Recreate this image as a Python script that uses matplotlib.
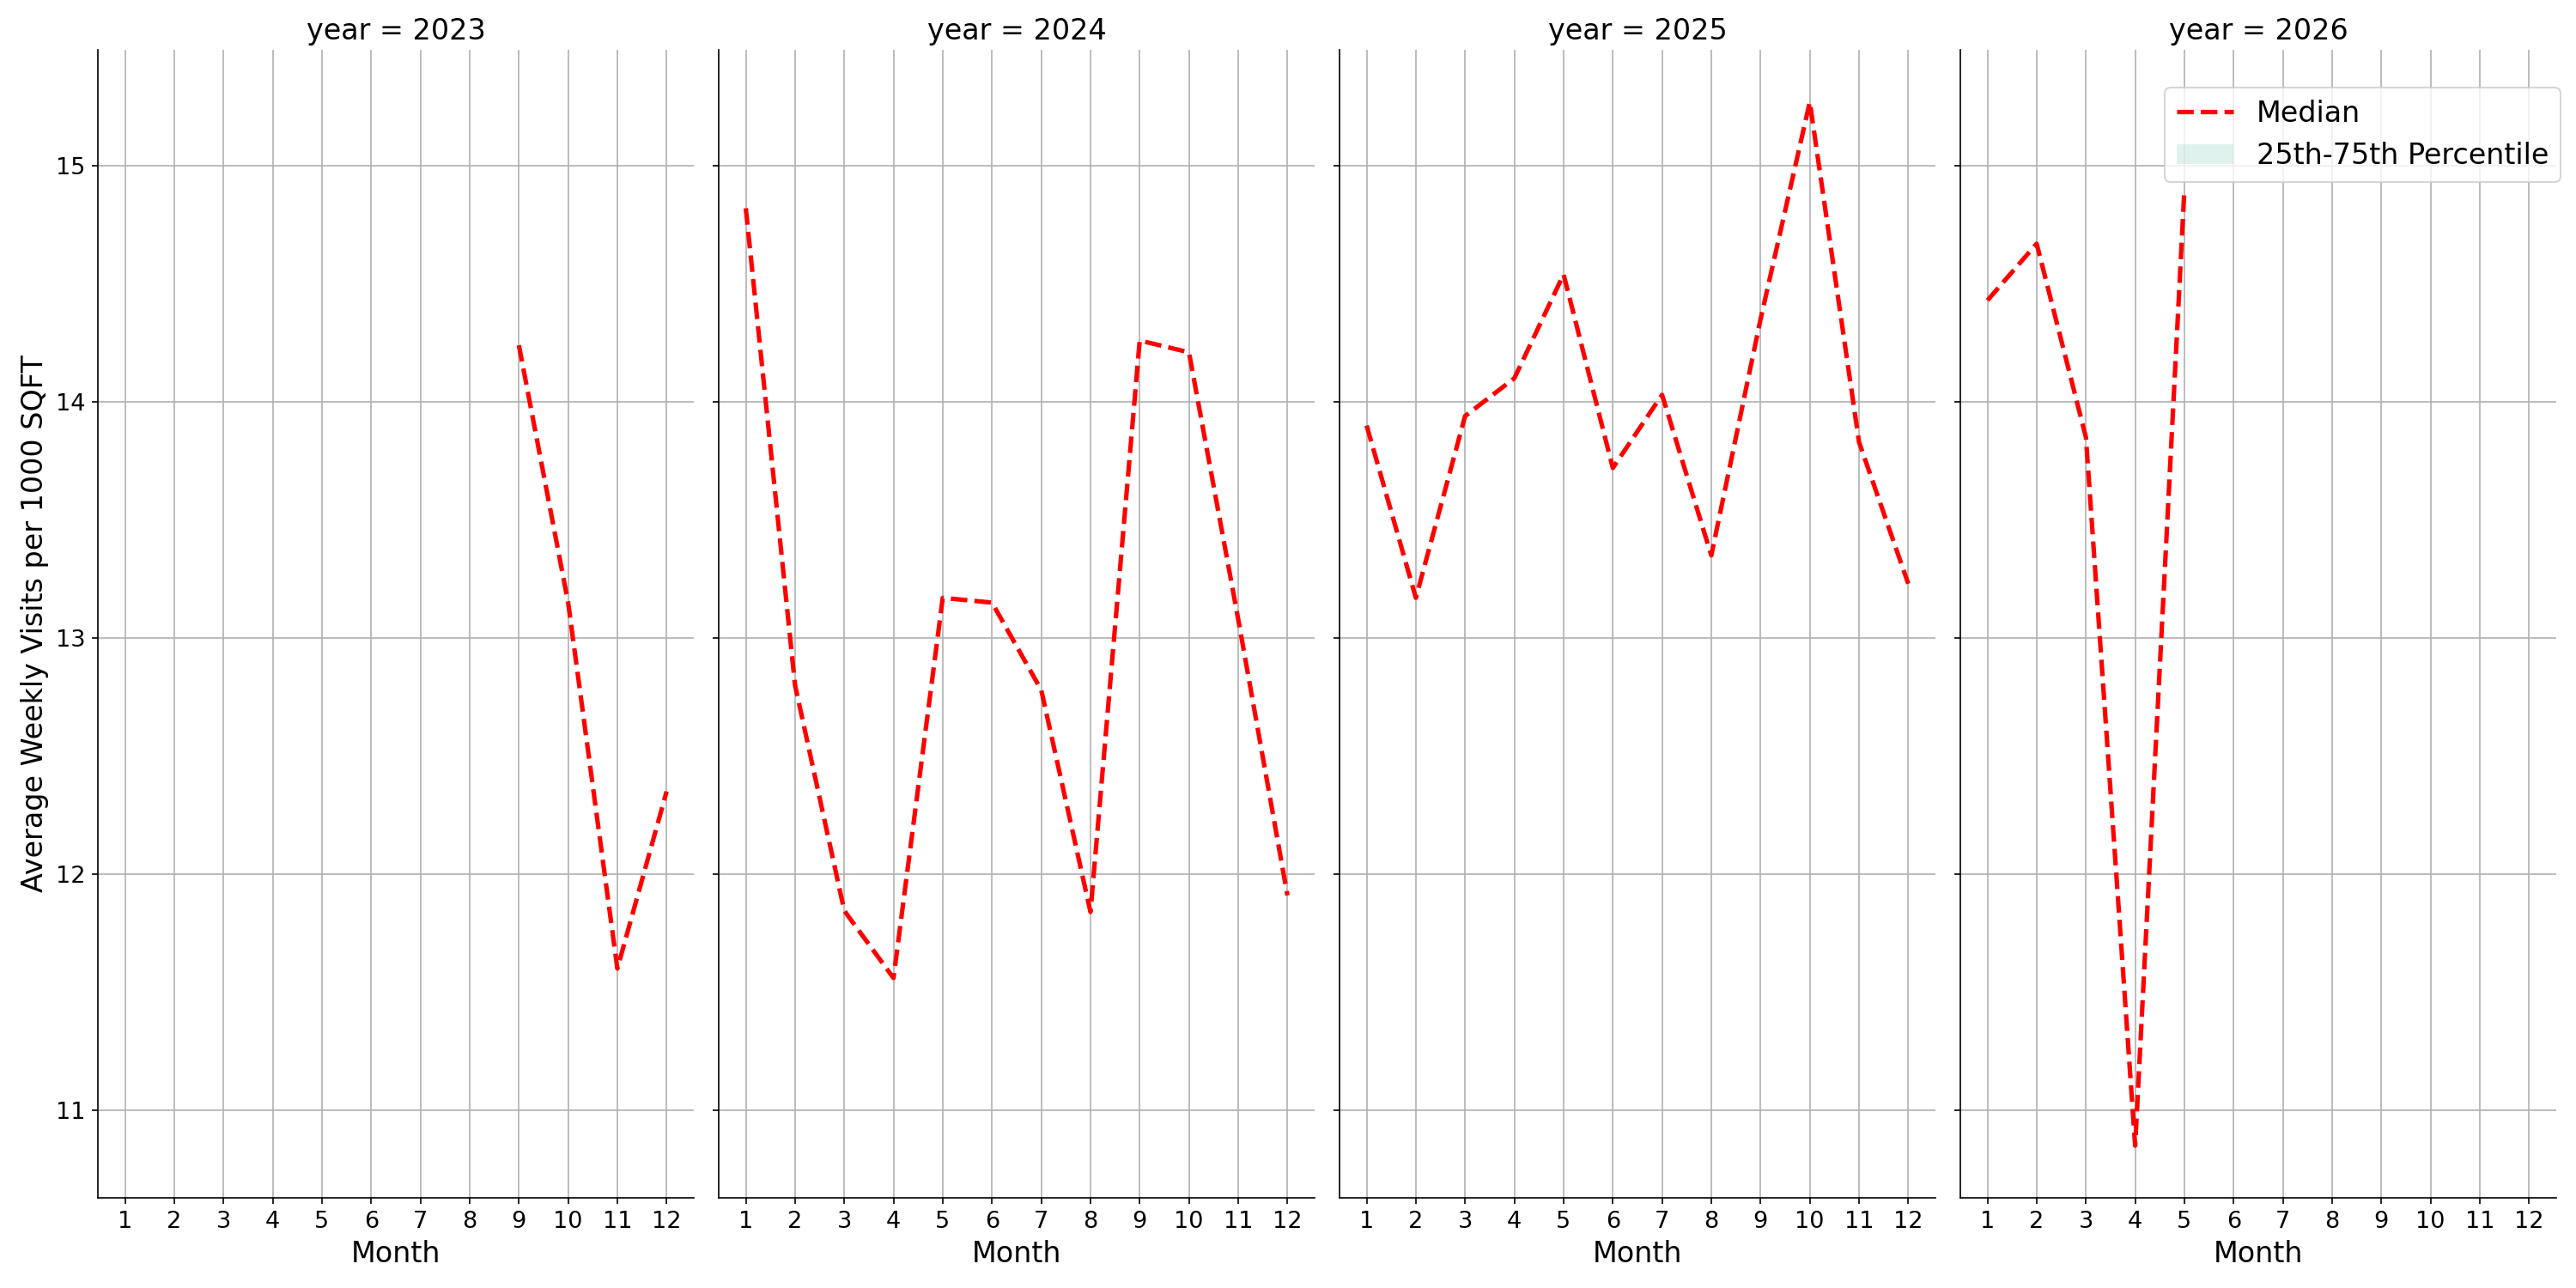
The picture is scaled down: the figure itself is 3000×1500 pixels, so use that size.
import matplotlib
matplotlib.use('Agg')
import matplotlib.pyplot as plt
from matplotlib.patches import Patch

years = [2023, 2024, 2025, 2026]

months_2023 = [9, 10, 11, 12]
median_2023 = [14.24, 13.15, 11.60, 12.35]

months_2024 = [1, 2, 3, 4, 5, 6, 7, 8, 9, 10, 11, 12]
median_2024 = [14.82, 12.80, 11.845, 11.56, 13.17, 13.15, 12.78, 11.84, 14.26, 14.21, 13.08, 11.91]

months_2025 = [1, 2, 3, 4, 5, 6, 7, 8, 9, 10, 11, 12]
median_2025 = [13.90, 13.17, 13.94, 14.10, 14.54, 13.72, 14.03, 13.35, 14.35, 15.27, 13.83, 13.23]

months_2026 = [1, 2, 3, 4, 5]
median_2026 = [14.43, 14.67, 13.85, 10.85, 14.9]

month_ticks = list(range(1, 13))

data = {
    2023: (months_2023, median_2023),
    2024: (months_2024, median_2024),
    2025: (months_2025, median_2025),
    2026: (months_2026, median_2026),
}

fig, axes = plt.subplots(1, 4, figsize=(20, 10), dpi=150, sharex=True, sharey=True)
fig.subplots_adjust(left=0.038, right=0.9923, bottom=0.07, top=0.9613, wspace=0.042)

for ax, yr in zip(axes, years):
    m, med = data[yr]
    ax.plot(m, med, color='red', linestyle='--', linewidth=2.5)
    ax.set_title(f'year = {yr}', fontsize=16)
    ax.set_xlabel('Month', fontsize=16)
    ax.set_xticks(month_ticks)
    ax.grid(True)
    ax.spines['top'].set_visible(False)
    ax.spines['right'].set_visible(False)
    ax.tick_params(labelsize=13)

axes[0].set_ylabel('Average Weekly Visits per 1000 SQFT', fontsize=16)

handles = [
    plt.Line2D([], [], color='red', linestyle='--', linewidth=2.5),
    Patch(facecolor='#66c2a5', alpha=0.2, edgecolor='none'),
]
axes[3].legend(handles, ['Median', '25th-75th Percentile'], fontsize=16,
               loc='upper right', bbox_to_anchor=(1.007, 0.967), borderaxespad=0)

fig.savefig('out.png')
